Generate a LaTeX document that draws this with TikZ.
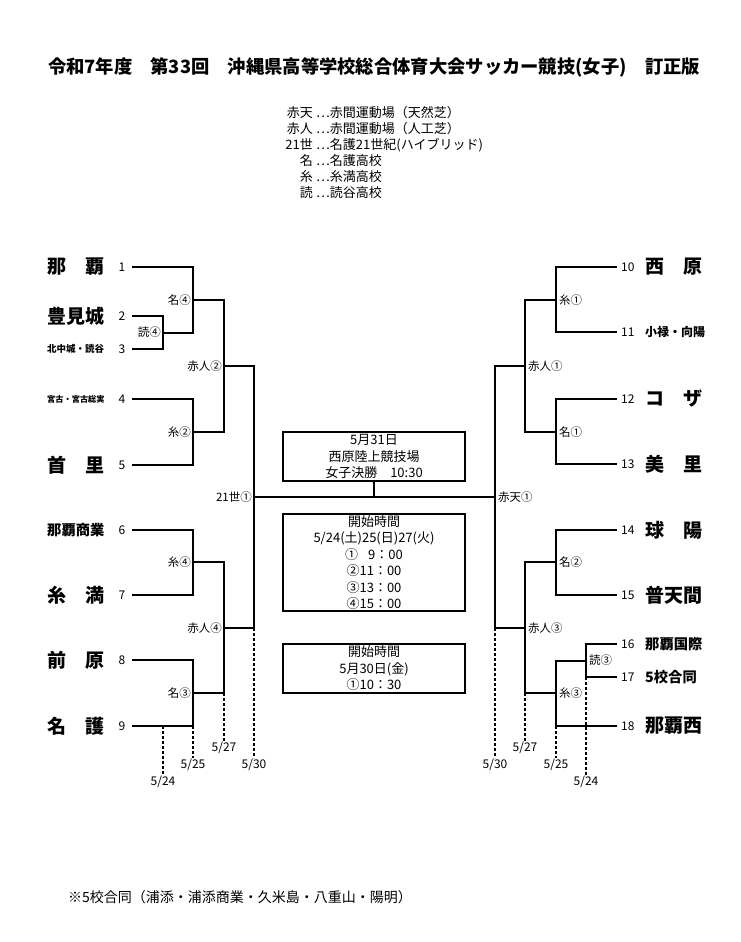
\documentclass[tikz,border=0pt]{standalone}
\usepackage{fontspec}
\setmainfont{Noto Sans CJK JP}
\begin{document}
\begin{tikzpicture}[x=1pt,y=-1pt,
  line/.style={line width=2pt},
  datedash/.style={line width=1.5pt, dash pattern=on 3pt off 2pt},
  bigname/.style={font=\fontsize{19}{19}\selectfont\bfseries, inner sep=0pt},
  midname/.style={font=\fontsize{14.3}{15}\selectfont\bfseries, inner sep=0pt},
  smallname/.style={font=\fontsize{9.5}{10}\selectfont\bfseries, inner sep=0pt},
  num/.style={font=\fontsize{12}{12}\selectfont, inner sep=0pt},
  rnd/.style={font=\fontsize{11.5}{12}\selectfont, inner sep=0pt},
  dt/.style={font=\fontsize{12}{12}\selectfont, inner sep=1pt, anchor=north},
  legend/.style={font=\fontsize{13}{13}\selectfont, inner sep=0pt},
  infobox/.style={draw, line width=2pt, minimum width=182pt, align=center, inner sep=0pt, font=\fontsize{13}{16.5}\selectfont},
]
\useasboundingbox (0,0) rectangle (741,942);
% title and legend
\node[font=\fontsize{18.3}{18}\selectfont\bfseries] (title) at (374,67) {令和7年度　第33回　沖縄県高等学校総合体育大会サッカー競技(女子)　訂正版};
\node[legend, anchor=east] (k1) at (313,113) {赤天};
\node[legend, anchor=east] (k2) at (313,129) {赤人};
\node[legend, anchor=east] (k3) at (313,145) {21世};
\node[legend, anchor=east] (k4) at (313,161) {名};
\node[legend, anchor=east] (k5) at (313,177) {糸};
\node[legend, anchor=east] (k6) at (313,193) {読};
\node[legend, anchor=west] (v1) at (316,113) {…赤間運動場（天然芝）};
\node[legend, anchor=west] (v2) at (316,129) {…赤間運動場（人工芝）};
\node[legend, anchor=west] (v3) at (316,145) {…名護21世紀(ハイブリッド)};
\node[legend, anchor=west] (v4) at (316,161) {…名護高校};
\node[legend, anchor=west] (v5) at (316,177) {…糸満高校};
\node[legend, anchor=west] (v6) at (316,193) {…読谷高校};
% left teams
\node[bigname, anchor=west] (t1) at (47,267) {\makebox[57pt][s]{那\hfill 覇}};
\node[bigname, anchor=west] (t2) at (47,316) {\makebox[57pt][s]{豊\hfill 見\hfill 城}};
\node[smallname, anchor=west] (t3) at (47,349) {北中城・読谷};
\node[smallname, anchor=west] (t4) at (47,399) {\fontsize{8.2}{8}\selectfont 宮古・宮古総実};
\node[bigname, anchor=west] (t5) at (47,465) {\makebox[57pt][s]{首\hfill 里}};
\node[midname, anchor=west] (t6) at (47,530) {那覇商業};
\node[bigname, anchor=west] (t7) at (47,595) {\makebox[57pt][s]{糸\hfill 満}};
\node[bigname, anchor=west] (t8) at (47,660) {\makebox[57pt][s]{前\hfill 原}};
\node[bigname, anchor=west] (t9) at (47,726) {\makebox[57pt][s]{名\hfill 護}};
\node[num] (n1) at (122,267) {1};
\node[num] (n2) at (122,316) {2};
\node[num] (n3) at (122,349) {3};
\node[num] (n4) at (122,399) {4};
\node[num] (n5) at (122,465) {5};
\node[num] (n6) at (122,530) {6};
\node[num] (n7) at (122,595) {7};
\node[num] (n8) at (122,660) {8};
\node[num] (n9) at (122,726) {9};
\coordinate (s1) at (132,267);
\coordinate (s2) at (132,316);
\coordinate (s3) at (132,349);
\coordinate (s4) at (132,399);
\coordinate (s5) at (132,465);
\coordinate (s6) at (132,530);
\coordinate (s7) at (132,595);
\coordinate (s8) at (132,660);
\coordinate (s9) at (132,726);
% right teams
\node[bigname, anchor=west] (t10) at (645,267) {\makebox[57pt][s]{西\hfill 原}};
\node[midname, anchor=west] (t11) at (645,332) {\fontsize{12}{12}\selectfont 小禄・向陽};
\node[bigname, anchor=west] (t12) at (645,399) {\makebox[57pt][s]{コ\hfill ザ}};
\node[bigname, anchor=west] (t13) at (645,464) {\makebox[57pt][s]{美\hfill 里}};
\node[bigname, anchor=west] (t14) at (645,530) {\makebox[57pt][s]{球\hfill 陽}};
\node[bigname, anchor=west] (t15) at (645,595) {\makebox[57pt][s]{普\hfill 天\hfill 間}};
\node[midname, anchor=west] (t16) at (645,644) {那覇国際};
\node[midname, anchor=west] (t17) at (645,677) {5校合同};
\node[bigname, anchor=west] (t18) at (645,726) {\makebox[57pt][s]{那\hfill 覇\hfill 西}};
\node[num, anchor=west] (n10) at (621,267) {10};
\node[num, anchor=west] (n11) at (621,332) {11};
\node[num, anchor=west] (n12) at (621,399) {12};
\node[num, anchor=west] (n13) at (621,464) {13};
\node[num, anchor=west] (n14) at (621,530) {14};
\node[num, anchor=west] (n15) at (621,595) {15};
\node[num, anchor=west] (n16) at (621,644) {16};
\node[num, anchor=west] (n17) at (621,677) {17};
\node[num, anchor=west] (n18) at (621,726) {18};
\coordinate (s10) at (617,267);
\coordinate (s11) at (617,332);
\coordinate (s12) at (617,399);
\coordinate (s13) at (617,464);
\coordinate (s14) at (617,530);
\coordinate (s15) at (617,595);
\coordinate (s16) at (617,644);
\coordinate (s17) at (617,677);
\coordinate (s18) at (617,726);
% matches, left half
\coordinate (mA) at (163,332.5);
\coordinate (mB) at (193,300);
\coordinate (mC) at (193,432);
\coordinate (mD) at (224,366);
\coordinate (mE) at (193,562);
\coordinate (mF) at (193,693);
\coordinate (mG) at (224,628);
\coordinate (mH) at (254,497);
\draw[line] (s2) -| (mA) |- (s3);
\draw[line] (s1) -| (mB) |- (mA);
\draw[line] (s4) -| (mC) |- (s5);
\draw[line] (mB) -| (mD) |- (mC);
\draw[line] (s6) -| (mE) |- (s7);
\draw[line] (s8) -| (mF) |- (s9);
\draw[line] (mE) -| (mG) |- (mF);
\draw[line] (mD) -| (mH) |- (mG);
\node[rnd, anchor=east] (rA) at ([xshift=-2pt]mA) {読④};
\node[rnd, anchor=east] (rB) at ([xshift=-2pt]mB) {名④};
\node[rnd, anchor=east] (rC) at ([xshift=-2pt]mC) {糸②};
\node[rnd, anchor=east] (rD) at ([xshift=-2pt]mD) {赤人②};
\node[rnd, anchor=east] (rE) at ([xshift=-2pt]mE) {糸④};
\node[rnd, anchor=east] (rF) at ([xshift=-2pt]mF) {名③};
\node[rnd, anchor=east] (rG) at ([xshift=-2pt]mG) {赤人④};
\node[rnd, anchor=east] (rH) at ([xshift=-2pt]mH) {21世①};
% matches, right half
\coordinate (mI) at (556,300);
\coordinate (mJ) at (556,432);
\coordinate (mK) at (525,366);
\coordinate (mL) at (556,562);
\coordinate (mM) at (586,660.5);
\coordinate (mN) at (556,693);
\coordinate (mO) at (525,628);
\coordinate (mP) at (495,497);
\draw[line] (s10) -| (mI) |- (s11);
\draw[line] (s12) -| (mJ) |- (s13);
\draw[line] (mI) -| (mK) |- (mJ);
\draw[line] (s14) -| (mL) |- (s15);
\draw[line] (s16) -| (mM) |- (s17);
\draw[line] (mM) -| (mN) |- (s18);
\draw[line] (mL) -| (mO) |- (mN);
\draw[line] (mK) -| (mP) |- (mO);
\node[rnd, anchor=west] (rI) at ([xshift=3pt]mI) {糸①};
\node[rnd, anchor=west] (rJ) at ([xshift=3pt]mJ) {名①};
\node[rnd, anchor=west] (rK) at ([xshift=3pt]mK) {赤人①};
\node[rnd, anchor=west] (rL) at ([xshift=3pt]mL) {名②};
\node[rnd, anchor=west] (rM) at ([xshift=3pt]mM) {読③};
\node[rnd, anchor=west] (rN) at ([xshift=3pt]mN) {糸③};
\node[rnd, anchor=west] (rO) at ([xshift=3pt]mO) {赤人③};
\node[rnd, anchor=west] (rP) at ([xshift=3pt]mP) {赤天①};
% final and info boxes
\node[infobox, minimum height=49pt] (box1) at (374,456.5) {5月31日\\西原陸上競技場\\女子決勝　10:30};
\node[infobox, minimum height=97pt] (box2) at (374,562.5) {開始時間\\5/24(土)25(日)27(火)\\①\hphantom{1}\ 9：00\\②11：00\\③13：00\\④15：00};
\node[infobox, minimum height=49pt] (box3) at (374,668.5) {開始時間\\5月30日(金)\\①10：30};
\draw[line] (mH) -- (mP);
\draw[line] (box1) -- (box1 |- mH);
% dates
\coordinate (dL30) at (254,758);
\coordinate (dL27) at (224,741);
\coordinate (dL25) at (193,758);
\coordinate (dL24) at (163,775);
\coordinate (dR30) at (495,758);
\coordinate (dR27) at (525,741);
\coordinate (dR25) at (556,758);
\coordinate (dR24) at (586,775);
\draw[datedash] (dL30 |- mG) -- (dL30);
\draw[datedash] (dL27 |- mF) -- (dL27);
\draw[datedash] (dL25 |- s9) -- (dL25);
\draw[datedash] (dL24 |- s9) -- (dL24);
\draw[datedash] (dR30 |- mO) -- (dR30);
\draw[datedash] (dR27 |- mN) -- (dR27);
\draw[datedash] (dR25 |- s18) -- (dR25);
\draw[datedash] (dR24 |- s17) -- (dR24);
\node[dt] (eL30) at (dL30) {5/30};
\node[dt] (eL27) at (dL27) {5/27};
\node[dt] (eL25) at (dL25) {5/25};
\node[dt] (eL24) at (dL24) {5/24};
\node[dt] (eR30) at (dR30) {5/30};
\node[dt] (eR27) at (dR27) {5/27};
\node[dt] (eR25) at (dR25) {5/25};
\node[dt] (eR24) at (dR24) {5/24};
% note
\node[font=\fontsize{14}{14}\selectfont, anchor=west, inner sep=0pt] (note) at (68,897) {※5校合同（浦添・浦添商業・久米島・八重山・陽明）};
\end{tikzpicture}
\end{document}
